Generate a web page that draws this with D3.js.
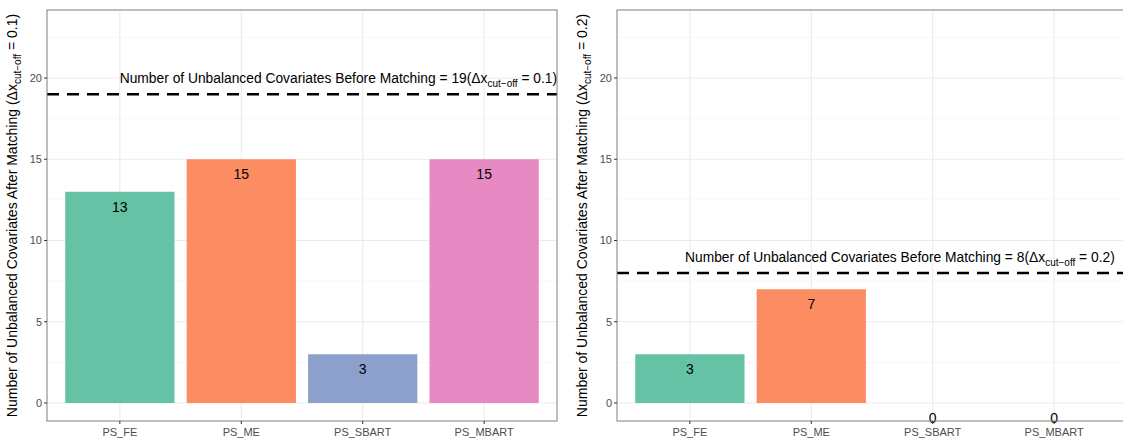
<!DOCTYPE html>
<html>
<head>
<meta charset="utf-8">
<script src="https://cdn.jsdelivr.net/npm/d3@7"></script>
<style>
  body { margin: 0; background: #fff; }
  svg { font-family: "Liberation Sans", Arial, sans-serif; display: block; }
</style>
</head>
<body>
<script>
// data
const methods = ["PS_FE", "PS_ME", "PS_SBART", "PS_MBART"]
const unbalanced01 = [13, 15, 3, 15]
const unbalanced02 = [3, 7, 0, 0]
const before01 = 19
const before02 = 8
const cutoffs = ["0.1", "0.2"]
const colors = ["#66C2A5", "#FC8D62", "#8DA0CB", "#E78AC3"]
const yTicks = [0, 5, 10, 15, 20]

const W = 1123, H = 441

let svg = d3.select("body").append("svg")
  .attr("width", W)
  .attr("height", H)

function drawPanel(left, values, before, cutoff, labelX) {
  let top = 10, bottom = 421, width = 510

  let x = d3.scaleLinear().domain([0.4, 4.6]).range([left, left + width])
  let y = d3.scaleLinear().domain([-1.108, 24.185]).range([bottom, top])

  let g = svg.append("g")

  // minor grid
  g.selectAll("line.minor")
    .data([2.5, 7.5, 12.5, 17.5, 22.5])
    .enter().append("line")
    .attr("x1", left).attr("x2", left + width)
    .attr("y1", d => y(d)).attr("y2", d => y(d))
    .style("stroke", "#F2F2F2").style("stroke-width", 0.6)

  // major grid
  g.selectAll("line.majory")
    .data(yTicks)
    .enter().append("line")
    .attr("x1", left).attr("x2", left + width)
    .attr("y1", d => y(d)).attr("y2", d => y(d))
    .style("stroke", "#EBEBEB").style("stroke-width", 1.1)

  g.selectAll("line.majorx")
    .data(methods)
    .enter().append("line")
    .attr("x1", (d, i) => x(i + 1)).attr("x2", (d, i) => x(i + 1))
    .attr("y1", top).attr("y2", bottom)
    .style("stroke", "#EBEBEB").style("stroke-width", 1.1)

  // bars
  g.selectAll("rect.bar")
    .data(values)
    .enter().append("rect")
    .attr("x", (d, i) => x(i + 1 - 0.45))
    .attr("width", x(1.45) - x(0.55))
    .attr("y", d => y(d))
    .attr("height", d => y(0) - y(d))
    .style("fill", (d, i) => colors[i])

  // bar labels
  g.selectAll("text.val")
    .data(values)
    .enter().append("text")
    .attr("x", (d, i) => x(i + 1))
    .attr("y", d => y(d) + 20)
    .attr("text-anchor", "middle")
    .attr("font-size", "14px")
    .attr("fill", "black")
    .text(d => d)

  // dashed reference line
  g.append("line")
    .attr("x1", left).attr("x2", left + width)
    .attr("y1", y(before)).attr("y2", y(before))
    .style("stroke", "black")
    .style("stroke-width", 2.6)
    .style("stroke-dasharray", "12,8")

  // annotation
  let ann = g.append("text")
    .attr("x", x(labelX))
    .attr("y", y(before + 1) + 5)
    .attr("text-anchor", "middle")
    .attr("font-size", "13.8px")
    .attr("fill", "black")
  ann.append("tspan").text("Number of Unbalanced Covariates Before Matching = " + before + "(\u0394x")
  ann.append("tspan").attr("font-size", "10px").attr("dy", 4).text("cut\u2212off")
  ann.append("tspan").attr("dy", -4).text(" = " + cutoff + ")")

  // border
  g.append("rect")
    .attr("x", left).attr("y", top)
    .attr("width", width).attr("height", bottom - top)
    .style("fill", "none")
    .style("stroke", "#7F7F7F")
    .style("stroke-width", 1)

  // y axis ticks and labels
  g.selectAll("line.ytick")
    .data(yTicks)
    .enter().append("line")
    .attr("x1", left - 3).attr("x2", left)
    .attr("y1", d => y(d)).attr("y2", d => y(d))
    .style("stroke", "#333333")
  g.selectAll("text.ytick")
    .data(yTicks)
    .enter().append("text")
    .attr("x", left - 5)
    .attr("y", d => y(d) + 4)
    .attr("text-anchor", "end")
    .attr("font-size", "11px")
    .attr("fill", "#4D4D4D")
    .text(d => d)

  // x axis ticks and labels
  g.selectAll("line.xtick")
    .data(methods)
    .enter().append("line")
    .attr("x1", (d, i) => x(i + 1)).attr("x2", (d, i) => x(i + 1))
    .attr("y1", bottom).attr("y2", bottom + 3)
    .style("stroke", "#333333")
  g.selectAll("text.xtick")
    .data(methods)
    .enter().append("text")
    .attr("x", (d, i) => x(i + 1))
    .attr("y", bottom + 15)
    .attr("text-anchor", "middle")
    .attr("font-size", "11px")
    .attr("fill", "#4D4D4D")
    .text(d => d)

  // y axis title
  let tx = left - 30, ty = (top + bottom) / 2
  let title = g.append("text")
    .attr("transform", "translate(" + tx + "," + ty + ") rotate(-90)")
    .attr("text-anchor", "middle")
    .attr("font-size", "14px")
    .attr("fill", "black")
  title.append("tspan").text("Number of Unbalanced Covariates After Matching (\u0394x")
  title.append("tspan").attr("font-size", "10px").attr("dy", 4).text("cut\u2212off")
  title.append("tspan").attr("dy", -4).text(" = " + cutoff + ")")
}

drawPanel(47, unbalanced01, before01, cutoffs[0], 2.8)
drawPanel(617, unbalanced02, before02, cutoffs[1], 2.73)
</script>
</body>
</html>
